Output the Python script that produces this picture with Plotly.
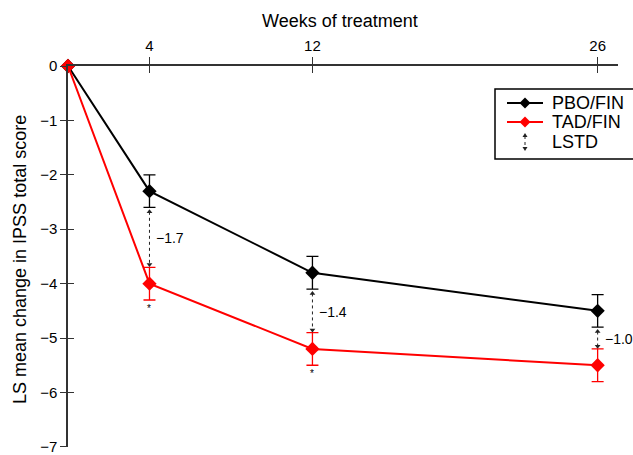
import plotly.graph_objects as go

# ---- data ----
weeks = [0, 4, 12, 26]
pbo_fin = [0, -2.3, -3.8, -4.5]
pbo_err = [None, 0.3, 0.3, 0.3]
tad_fin = [0, -4.0, -5.2, -5.5]
tad_err = [None, 0.3, 0.3, 0.3]
lstd_weeks = [4, 12, 26]
lstd_vals = [-1.7, -1.4, -1.0]
signif_weeks = [4, 12]
x_ticks = [4, 12, 26]
y_ticks = [0, -1, -2, -3, -4, -5, -6, -7]

FONT = "Liberation Sans, Arial, Helvetica, sans-serif"
BLACK = "#000000"
RED = "#ff0000"
AX = "#333333"

# plot-area geometry (pixels)
L, R, T, B = 68, 618, 66, 447
W, H = R - L, B - T


def px_x(px):
    return (px - L) / W


def px_y(py):
    return (B - py) / H


fig = go.Figure()

fig.add_trace(go.Scatter(
    x=weeks, y=pbo_fin, mode="lines+markers", name="PBO/FIN",
    line=dict(color=BLACK, width=2),
    marker=dict(symbol="diamond", size=11, color=BLACK),
    error_y=dict(type="data", array=pbo_err, color=BLACK, thickness=1.3, width=6),
    cliponaxis=False, showlegend=False,
))
fig.add_trace(go.Scatter(
    x=weeks, y=tad_fin, mode="lines+markers", name="TAD/FIN",
    line=dict(color=RED, width=2),
    marker=dict(symbol="diamond", size=11, color=RED),
    error_y=dict(type="data", array=tad_err, color=RED, thickness=1.3, width=6),
    cliponaxis=False, showlegend=False,
))

# LSTD dotted double arrows
idx = {w: i for i, w in enumerate(weeks)}
for w, v in zip(lstd_weeks, lstd_vals):
    i = idx[w]
    top = pbo_fin[i] - pbo_err[i] - 0.08
    bot = tad_fin[i] + tad_err[i] + 0.05
    fig.add_trace(go.Scatter(
        x=[w, w], y=[top, bot], mode="lines+markers",
        line=dict(color="#222222", width=1, dash="dot"),
        marker=dict(symbol=["triangle-up", "triangle-down"], size=5, color="#222222"),
        showlegend=False, hoverinfo="skip",
    ))
    fig.add_annotation(
        x=w, y=(top + bot) / 2, text="\u2212" + f"{abs(v):.1f}",
        showarrow=False, xanchor="left", yanchor="middle", xshift=5,
        font=dict(family=FONT, size=14, color=BLACK),
    )

# significance asterisks
for w in signif_weeks:
    i = idx[w]
    fig.add_annotation(
        x=w, y=tad_fin[i] - tad_err[i], text="*", showarrow=False,
        xanchor="center", yanchor="top", yshift=-1,
        font=dict(family=FONT, size=10, color=BLACK),
    )

# invisible trace to anchor the overlay axes (for crossing tick marks)
fig.add_trace(go.Scatter(
    x=weeks, y=pbo_fin, xaxis="x2", yaxis="y2", mode="markers",
    marker=dict(opacity=0), showlegend=False, hoverinfo="skip",
))

# ---- manual legend ----
shapes = []
lx0, lx1 = px_x(495), px_x(645)
shapes.append(dict(type="rect", xref="paper", yref="paper",
                   x0=lx0, x1=lx1, y0=px_y(159), y1=px_y(89),
                   line=dict(color=BLACK, width=1.5), fillcolor="rgba(0,0,0,0)"))
entries = [("PBO/FIN", BLACK, 103), ("TAD/FIN", RED, 122)]
for name, col, py in entries:
    shapes.append(dict(type="line", xref="paper", yref="paper",
                       x0=px_x(507), x1=px_x(543), y0=px_y(py), y1=px_y(py),
                       line=dict(color=col, width=2)))
    cx, s = 525, 5.5
    path = (f"M {px_x(cx)} {px_y(py - s)} L {px_x(cx + s)} {px_y(py)} "
            f"L {px_x(cx)} {px_y(py + s)} L {px_x(cx - s)} {px_y(py)} Z")
    shapes.append(dict(type="path", xref="paper", yref="paper", path=path,
                       fillcolor=col, line=dict(color=col, width=0)))
    fig.add_annotation(xref="paper", yref="paper", x=px_x(550), y=px_y(py),
                       text=name, showarrow=False, xanchor="left", yanchor="middle",
                       font=dict(family=FONT, size=18, color=BLACK))
# LSTD legend item
py = 142
shapes.append(dict(type="line", xref="paper", yref="paper",
                   x0=px_x(525), x1=px_x(525), y0=px_y(py - 6), y1=px_y(py + 6),
                   line=dict(color="#222222", width=1, dash="dot")))
for tip, base in [(py - 9, py - 5), (py + 9, py + 5)]:
    path = (f"M {px_x(525)} {px_y(tip)} L {px_x(527.5)} {px_y(base)} "
            f"L {px_x(522.5)} {px_y(base)} Z")
    shapes.append(dict(type="path", xref="paper", yref="paper", path=path,
                       fillcolor="#222222", line=dict(color="#222222", width=0)))
fig.add_annotation(xref="paper", yref="paper", x=px_x(550), y=px_y(py),
                   text="LSTD", showarrow=False, xanchor="left", yanchor="middle",
                   font=dict(family=FONT, size=18, color=BLACK))

# axis titles
fig.add_annotation(xref="paper", yref="paper", x=px_x(340), y=px_y(21),
                   text="Weeks of treatment", showarrow=False,
                   xanchor="center", yanchor="middle",
                   font=dict(family=FONT, size=18, color=BLACK))
fig.add_annotation(xref="paper", yref="paper", x=px_x(20), y=px_y(260),
                   text="LS mean change in IPSS total score", showarrow=False,
                   textangle=-90, xanchor="center", yanchor="middle",
                   font=dict(family=FONT, size=18, color=BLACK))

fig.update_layout(
    width=633, height=455,
    margin=dict(l=L, r=633 - R, t=T, b=455 - B),
    paper_bgcolor="white", plot_bgcolor="white",
    font=dict(family=FONT, size=15, color=BLACK),
    shapes=shapes,
    xaxis=dict(range=[0, 27], side="top", tickvals=x_ticks,
               ticktext=[str(t) for t in x_ticks], automargin=False,
               showline=True, linecolor=AX, linewidth=1.5,
               ticks="outside", ticklen=7, tickwidth=1, tickcolor=AX,
               showgrid=False, zeroline=False, fixedrange=True),
    xaxis2=dict(overlaying="x", matches="x", side="top", tickvals=x_ticks,
                ticks="inside", ticklen=7, tickwidth=1, tickcolor=AX, automargin=False,
                showticklabels=False, showline=False, showgrid=False, zeroline=False),
    yaxis=dict(range=[-7.002, 0], tickvals=y_ticks, automargin=False,
               showline=True, linecolor=AX, linewidth=1.5,
               ticks="outside", ticklen=6, tickwidth=1, tickcolor=AX,
               ticklabeloverflow="allow",
               showgrid=False, zeroline=False, fixedrange=True),
    yaxis2=dict(overlaying="y", matches="y", side="left", tickvals=y_ticks[1:],
                ticks="inside", ticklen=6, tickwidth=1, tickcolor=AX, automargin=False,
                showticklabels=False, showline=False, showgrid=False, zeroline=False),
)

fig.write_html(
    "out.html",
    config={"displayModeBar": False},
    post_script="document.body.style.margin='0px';document.body.style.overflow='hidden';",
)
